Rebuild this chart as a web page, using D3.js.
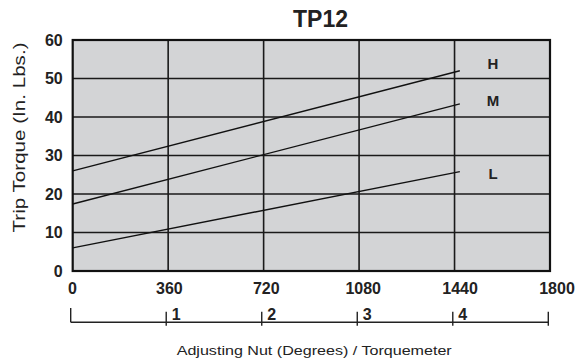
<!DOCTYPE html>
<html>
<head>
<meta charset="utf-8">
<script src="https://cdn.jsdelivr.net/npm/d3@7"></script>
<style>
  html, body { margin: 0; padding: 0; background: #fff; }
  svg { display: block; font-family: "Liberation Sans", Arial, Helvetica, sans-serif; }
</style>
</head>
<body>
<svg id="chart" width="577" height="364"></svg>
<script>
// ---- data ----
const title = "TP12";
const seriesNames = ["H", "M", "L"];
const xDegrees = [0, 1460];
const valuesH = [26, 52];
const valuesM = [17.4, 43.4];
const valuesL = [6, 25.8];
const labelX = [1585, 1585, 1585];
const labelY = [53.8, 44.4, 25.4];
const xTicks = [0, 360, 720, 1080, 1440, 1800];
const yTicks = [0, 10, 20, 30, 40, 50, 60];
const torqueTicks = [1, 2, 3, 4, 5];
const torqueLabels = ["1", "2", "3", "4"];
const yTitle = "Trip Torque (In. Lbs.)";
const xTitle = "Adjusting Nut (Degrees) / Torquemeter";

const series = [
  { name: seriesNames[0], values: valuesH },
  { name: seriesNames[1], values: valuesM },
  { name: seriesNames[2], values: valuesL }
];

// ---- scales ----
const svg = d3.select("#chart");
const x = d3.scaleLinear().domain([0, 1800]).range([72.7, 550]);
const xLab = d3.scaleLinear().domain([0, 1800]).range([72, 556.5]);
const y = d3.scaleLinear().domain([0, 60]).range([271, 40]);
const t = d3.scaleLinear().domain([0, 5]).range([70.7, 548.3]);

// plot background
svg.append("rect")
  .attr("x", x(0)).attr("y", y(60))
  .attr("width", x(1800) - x(0)).attr("height", y(0) - y(60))
  .attr("fill", "#d3d4d6");

// grid
svg.append("g").selectAll("line").data(yTicks.slice(1, -1)).join("line")
  .attr("x1", x(0)).attr("x2", x(1800))
  .attr("y1", d => y(d)).attr("y2", d => y(d))
  .attr("stroke", "#1a1a1a").attr("stroke-width", 1.6);
svg.append("g").selectAll("line").data(xTicks.slice(1, -1)).join("line")
  .attr("y1", y(0)).attr("y2", y(60))
  .attr("x1", d => x(d)).attr("x2", d => x(d))
  .attr("stroke", "#1a1a1a").attr("stroke-width", 1.6);

// frame
svg.append("rect")
  .attr("x", x(0)).attr("y", y(60))
  .attr("width", x(1800) - x(0)).attr("height", y(0) - y(60))
  .attr("fill", "none").attr("stroke", "#111").attr("stroke-width", 2.2);

// series lines
const line = d3.line().x((d, i) => x(xDegrees[i])).y(d => y(d));
svg.append("g").selectAll("path").data(series).join("path")
  .attr("d", d => line(d.values))
  .attr("fill", "none").attr("stroke", "#111").attr("stroke-width", 1.4);

// series labels
svg.append("g").selectAll("text").data(series).join("text")
  .attr("x", (d, i) => x(labelX[i])).attr("y", (d, i) => y(labelY[i]))
  .attr("text-anchor", "middle").attr("dominant-baseline", "central")
  .attr("font-weight", "bold").attr("font-size", 15).attr("fill", "#222")
  .text(d => d.name);

// y axis labels
const yAxis = d3.axisLeft(y).tickValues(yTicks).tickSize(0).tickPadding(10).tickFormat(d3.format("d"));
const gy = svg.append("g").attr("transform", `translate(${x(0)},0)`).call(yAxis);
gy.select(".domain").remove();
gy.selectAll("text").attr("font-size", 16).attr("font-weight", "bold").attr("fill", "#222")
  .attr("font-family", "Liberation Sans, Arial, sans-serif");

// x axis labels
const xAxis = d3.axisBottom(xLab).tickValues(xTicks).tickSize(0).tickPadding(12).tickFormat(d3.format("d"));
const gx = svg.append("g").attr("transform", `translate(0,${y(0)})`).call(xAxis);
gx.select(".domain").remove();
gx.selectAll("text").attr("font-size", 16).attr("font-weight", "bold").attr("fill", "#222")
  .attr("font-family", "Liberation Sans, Arial, sans-serif");

// torquemeter scale
const tg = svg.append("g").attr("stroke", "#222").attr("stroke-width", 1.4);
const baseY = 322.3;
tg.append("line").attr("x1", t(0)).attr("x2", t(5)).attr("y1", baseY).attr("y2", baseY);
tg.append("line").attr("x1", t(0)).attr("x2", t(0)).attr("y1", 308).attr("y2", baseY);
tg.selectAll("line.tk").data(torqueTicks).join("line").attr("class", "tk")
  .attr("x1", d => t(d)).attr("x2", d => t(d)).attr("y1", 311.7).attr("y2", 325.7);
svg.append("g").selectAll("text").data(torqueLabels).join("text")
  .attr("x", (d, i) => t(torqueTicks[i]) + 5.5).attr("y", 320)
  .attr("font-size", 16).attr("font-weight", "bold").attr("fill", "#222")
  .text(d => d);

// titles
svg.append("text").attr("x", 320.5).attr("y", 26.8).attr("text-anchor", "middle")
  .attr("font-size", 23).attr("font-weight", "bold").attr("fill", "#222").text(title);

svg.append("text").attr("x", 314.2).attr("y", 354.5).attr("text-anchor", "middle")
  .attr("font-size", 13.5).attr("fill", "#222")
  .attr("textLength", 275).attr("lengthAdjust", "spacingAndGlyphs").text(xTitle);

svg.append("text").attr("transform", "translate(24.5,137.5) rotate(-90)")
  .attr("text-anchor", "middle").attr("font-size", 16).attr("fill", "#222")
  .attr("textLength", 190).attr("lengthAdjust", "spacingAndGlyphs").text(yTitle);
</script>
</body>
</html>
